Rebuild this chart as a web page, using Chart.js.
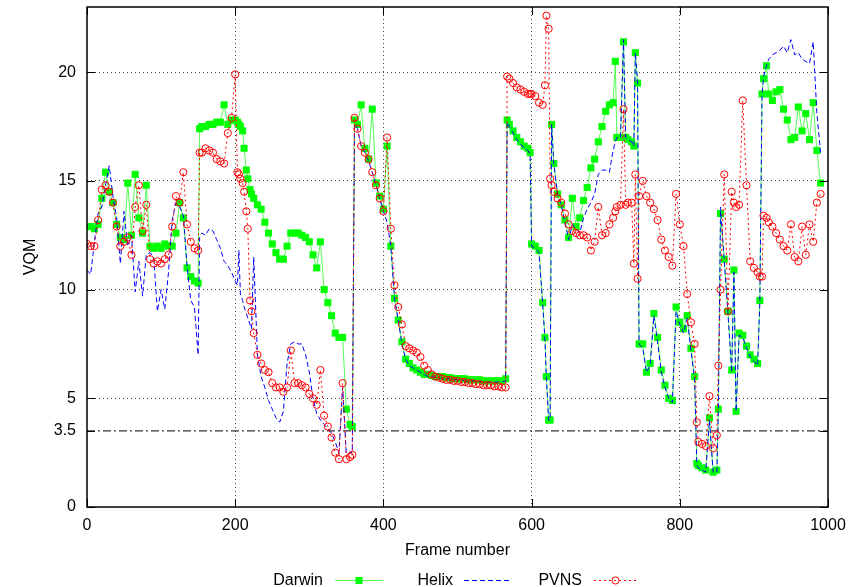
<!DOCTYPE html>
<html>
<head>
<meta charset="utf-8">
<script src="https://cdn.jsdelivr.net/npm/chart.js@4.4.1/dist/chart.umd.min.js"></script>
<style>
  html, body { margin: 0; padding: 0; background: #fff; }
  #wrap { width: 850px; height: 587px; }
</style>
</head>
<body>
<div id="wrap"><canvas id="c" width="850" height="587"></canvas></div>
<script>
// ---- data ----
const frames = [
  0,5,10,15,20,25,30,35,40,45,
  50,55,60,65,70,75,80,85,90,95,
  100,105,110,115,120,125,130,135,140,145,
  150,152,155,160,165,170,175,180,185,190,
  195,200,203,205,207,210,212,215,217,220,222,225,230,235,
  240,245,250,255,260,265,270,275,280,285,
  290,295,300,305,310,315,320,325,330,335,
  340,345,350,355,358,361,365,370,375,380,
  385,390,395,400,405,410,415,420,425,430,
  435,440,445,450,455,460,465,470,475,480,
  485,490,495,500,505,510,515,520,525,530,
  535,540,545,550,555,560,565,567,570,575,
  580,585,590,595,598,600,605,610,615,618,
  620,623,625,627,630,635,640,645,650,655,
  660,665,670,675,680,685,690,695,700,705,
  710,713,715,720,724,727,730,735,738,740,
  743,745,750,755,760,765,770,775,780,785,
  790,795,800,805,810,815,820,823,825,830,
  835,840,845,850,852,855,860,865,870,873,
  876,880,885,890,895,900,905,908,911,913,
  917,920,925,930,935,940,945,950,955,960,
  965,970,975,980,985,990
];
const darwin = [
  12.9,12.9,12.8,13.0,14.2,15.4,14.5,14.0,13.0,12.4,
  12.3,14.9,12.5,15.3,13.3,12.6,14.8,12.0,11.9,12.0,
  11.9,12.1,12.0,12.0,12.6,14.0,13.3,11.0,10.6,10.4,
  10.3,17.4,17.5,17.5,17.6,17.6,17.7,17.7,18.5,17.6,
  17.8,17.8,17.7,17.6,17.5,17.3,16.5,15.5,15.1,14.6,14.4,14.2,13.9,13.7,
  13.1,12.6,12.1,11.7,11.4,11.4,12.0,12.6,12.6,12.6,
  12.5,12.4,12.2,11.6,11.0,12.2,10.0,9.4,8.8,8.0,
  7.8,7.8,4.5,3.8,3.7,17.8,17.6,18.5,16.5,16.0,
  18.3,14.9,14.3,13.7,16.6,12.0,9.6,8.6,7.6,6.8,
  6.6,6.4,6.3,6.2,6.1,6.1,6.05,6.0,6.0,6.0,
  5.95,5.95,5.9,5.9,5.9,5.9,5.85,5.85,5.85,5.85,
  5.8,5.8,5.8,5.8,5.8,5.8,5.9,17.8,17.6,17.3,
  17.0,16.8,16.6,16.5,16.3,12.1,12.0,11.8,9.4,7.8,
  6.0,4.0,4.0,17.6,15.8,14.4,13.9,13.2,12.4,14.2,
  12.9,13.3,14.1,14.7,15.6,16.0,16.8,17.5,18.2,18.5,
  18.6,20.5,17.0,17.0,21.4,17.0,16.9,16.8,16.6,20.9,
  19.5,7.5,7.5,6.2,6.6,8.9,7.8,6.3,5.6,5.0,
  4.9,9.2,8.5,8.2,8.8,7.3,6.0,2.0,1.9,1.8,
  1.7,4.1,1.6,1.7,4.5,13.5,11.4,9.0,6.3,10.9,
  4.4,8.0,7.9,7.4,7.0,6.8,6.6,9.5,19.0,19.7,
  20.3,19.0,18.7,19.1,19.2,18.3,17.8,16.9,17.0,18.4,
  17.3,18.1,16.9,18.6,16.4,14.9
];
const helix = [
  10.9,10.7,12.2,13.5,13.8,14.8,15.7,14.3,13.3,11.2,
  13.6,12.0,12.5,9.9,11.3,9.7,11.6,11.7,11.5,9.0,
  10.0,9.1,10.8,13.2,14.0,13.8,13.4,11.1,9.5,9.2,
  7.0,12.4,12.6,12.5,12.8,12.7,12.3,11.9,11.3,11.1,
  10.8,10.4,10.2,11.8,9.8,9.5,9.2,8.9,8.7,8.4,8.2,11.5,7.0,6.0,
  5.5,4.9,4.5,4.1,3.9,4.4,6.6,7.5,7.6,7.5,
  7.5,7.0,6.2,5.0,4.3,4.0,3.8,3.6,3.4,3.0,
  2.5,5.5,2.4,2.5,2.5,17.6,17.4,16.6,16.3,15.9,
  15.4,14.8,14.2,13.6,13.1,12.0,9.6,8.6,7.5,6.8,
  6.5,6.4,6.3,6.2,6.1,6.0,6.0,5.95,5.95,5.9,
  5.9,5.9,5.85,5.85,5.85,5.8,5.8,5.8,5.8,5.8,
  5.75,5.75,5.75,5.75,5.75,5.75,5.8,17.7,17.5,17.2,
  16.9,16.7,16.5,16.4,16.2,12.0,11.9,11.7,9.3,7.7,
  5.9,4.0,4.0,17.6,15.8,14.4,13.9,13.1,12.3,13.0,
  12.8,12.6,13.3,13.7,14.0,14.4,15.3,15.5,15.5,15.4,
  16.4,16.8,17.0,17.0,21.5,17.0,16.9,16.8,16.6,20.9,
  19.5,7.5,7.3,6.2,6.5,8.8,7.6,6.2,5.5,5.0,
  4.8,9.0,8.4,8.0,8.7,7.2,5.9,1.9,1.8,1.7,
  1.6,4.0,1.6,1.6,4.5,13.8,11.3,8.9,6.2,10.8,
  4.4,7.9,7.8,7.3,6.9,6.7,6.5,9.4,19.0,19.8,
  20.3,20.6,20.8,20.9,21.0,21.2,20.9,21.5,20.8,20.9,
  20.6,20.5,20.4,21.4,18.1,16.3
];
const pvns = [
  12.1,12.0,12.0,13.2,14.6,14.8,14.5,14.0,12.9,12.0,
  12.2,12.4,11.6,13.8,14.8,12.7,13.9,11.4,11.2,11.3,
  11.2,11.4,11.6,12.9,14.3,14.0,15.4,13.0,12.2,11.9,
  11.8,16.3,16.3,16.5,16.4,16.3,16.0,15.9,15.8,17.2,
  17.9,19.9,15.4,15.3,15.1,14.9,14.5,13.6,12.8,9.5,9.0,8.0,7.0,6.6,
  6.3,6.2,5.7,5.5,5.5,5.3,5.5,7.2,5.7,5.7,
  5.6,5.5,5.2,5.0,4.7,6.3,4.2,3.7,3.2,2.5,
  2.2,5.7,2.2,2.3,2.4,17.9,17.4,16.6,16.3,16.0,
  15.4,14.8,14.2,13.6,17.0,12.8,10.2,9.2,8.4,7.4,
  7.3,7.2,7.1,6.9,6.5,6.3,6.1,6.0,5.95,5.9,
  5.85,5.85,5.8,5.8,5.75,5.75,5.7,5.7,5.65,5.65,
  5.6,5.6,5.6,5.55,5.55,5.5,5.5,19.8,19.7,19.5,
  19.3,19.2,19.1,19.0,19.0,19.0,18.9,18.6,18.5,19.4,
  22.6,22.0,15.1,14.8,14.5,14.2,14.0,13.5,13.0,12.7,
  12.6,12.5,12.5,12.4,11.8,12.2,13.8,12.5,12.6,13.0,
  13.3,13.6,13.8,13.9,18.3,13.9,14.0,14.0,11.2,15.3,
  10.5,14.3,15.0,14.3,14.0,13.7,13.2,12.3,11.8,11.5,
  11.1,14.4,13.0,12.0,9.8,8.5,7.5,3.9,3.0,2.9,
  2.8,5.1,2.7,3.3,6.5,10.0,15.3,9.0,14.5,14.0,
  13.8,13.9,18.7,14.8,11.3,11.0,10.8,10.6,10.6,13.4,
  13.3,13.1,12.9,12.6,12.3,12.0,11.8,13.0,11.5,11.3,
  12.9,11.6,13.0,12.2,14.0,14.4
];
const seriesNames = ['Darwin', 'Helix', 'PVNS'];
const yTickValues = [0, 3.5, 5, 10, 15, 20];
const xTickValues = [0, 200, 400, 600, 800, 1000];
const thresholdValue = 3.5;
const xRange = [0, 1000];
const yRange = [0, 23];

// ---- chart ----
const FONT = "'Liberation Sans', Arial, Helvetica, sans-serif";
const toXY = (vals) => frames.map((f, i) => ({ x: f, y: vals[i] }));

const frameBox = {
  id: 'frameBox',
  afterDraw(chart) {
    const { ctx, chartArea: a, scales } = chart;
    ctx.save();
    ctx.strokeStyle = '#000';
    ctx.lineWidth = 1;
    const tl = 8;
    xTickValues.forEach(v => {
      const px = Math.round(scales.x.getPixelForValue(v)) + 0.5;
      ctx.beginPath();
      ctx.moveTo(px, a.bottom); ctx.lineTo(px, a.bottom - tl);
      ctx.moveTo(px, a.top); ctx.lineTo(px, a.top + tl);
      ctx.stroke();
    });
    yTickValues.forEach(v => {
      const py = Math.round(scales.y.getPixelForValue(v)) + 0.5;
      ctx.beginPath();
      ctx.moveTo(a.left, py); ctx.lineTo(a.left + tl, py);
      ctx.moveTo(a.right, py); ctx.lineTo(a.right - tl, py);
      ctx.stroke();
    });
    ctx.lineWidth = 1.5;
    ctx.strokeRect(a.left, a.top, a.right - a.left, a.bottom - a.top);
    ctx.restore();
  }
};

const gpLegend = {
  id: 'gpLegend',
  afterDraw(chart) {
    const ctx = chart.ctx;
    const y = 580.5;
    const slots = [
      { ds: 0, textRight: 323, x0: 335, x1: 383 },
      { ds: 1, textRight: 453, x0: 464, x1: 512 },
      { ds: 2, textRight: 582, x0: 594, x1: 637 }
    ];
    ctx.save();
    slots.forEach(s => {
      const d = chart.data.datasets[s.ds];
      ctx.font = '16px ' + FONT;
      ctx.fillStyle = '#000';
      ctx.textAlign = 'right';
      ctx.textBaseline = 'middle';
      ctx.fillText(d.label, s.textRight, y);
      ctx.beginPath();
      ctx.setLineDash(d.borderDash || []);
      ctx.strokeStyle = d.borderColor;
      ctx.lineWidth = d.borderWidth;
      ctx.moveTo(s.x0, y); ctx.lineTo(s.x1, y);
      ctx.stroke();
      ctx.setLineDash([]);
      if (d.pointRadius > 0) {
        ctx.fillStyle = d.pointBackgroundColor;
        ctx.strokeStyle = d.pointBorderColor;
        ctx.lineWidth = d.pointBorderWidth;
        Chart.helpers.drawPoint(ctx, {
          pointStyle: d.pointStyle, radius: d.pointRadius, rotation: 0,
          borderWidth: d.pointBorderWidth
        }, (s.x0 + s.x1) / 2, y);
      }
    });
    ctx.restore();
  }
};

new Chart(document.getElementById('c'), {
  type: 'line',
  data: {
    datasets: [
      {
        label: seriesNames[0],
        data: toXY(darwin),
        borderColor: '#55ff55',
        borderWidth: 1,
        pointStyle: 'rect',
        pointRadius: 5,
        pointBackgroundColor: '#00ff00',
        pointBorderColor: '#00ff00',
        pointBorderWidth: 0,
        order: 3
      },
      {
        label: seriesNames[1],
        data: toXY(helix),
        borderColor: '#0000ff',
        borderWidth: 1,
        borderDash: [5, 3],
        pointRadius: 0,
        order: 2
      },
      {
        label: seriesNames[2],
        data: toXY(pvns),
        borderColor: '#ff0000',
        borderWidth: 1,
        borderDash: [2, 3],
        pointStyle: 'circle',
        pointRadius: 3.6,
        pointBackgroundColor: 'rgba(0,0,0,0)',
        pointBorderColor: '#ff0000',
        pointBorderWidth: 1,
        order: 1
      },
      {
        label: 'threshold',
        data: [{ x: xRange[0], y: thresholdValue }, { x: xRange[1], y: thresholdValue }],
        borderColor: '#000',
        borderWidth: 1,
        borderDash: [8, 3, 2, 3],
        pointRadius: 0,
        order: 4
      }
    ]
  },
  options: {
    responsive: false,
    animation: false,
    devicePixelRatio: 1,
    layout: { autoPadding: false, padding: { left: 0, right: 22, top: 7, bottom: 27 } },
    plugins: {
      legend: { display: false },
      tooltip: { enabled: false }
    },
    elements: { line: { tension: 0 } },
    scales: {
      x: {
        type: 'linear',
        min: xRange[0], max: xRange[1],
        afterBuildTicks: (s) => { s.ticks = xTickValues.map(v => ({ value: v })); },
        afterFit: (s) => { s.height = 53; s.paddingLeft = 0; s.paddingRight = 0; s.paddingTop = 0; s.paddingBottom = 0; },
        ticks: { font: { family: FONT, size: 16 }, color: '#000', padding: 9, maxRotation: 0,
                 callback: (v) => String(v) },
        grid: {
          drawTicks: false,
          color: (c) => (c.tick && (c.tick.value === 0 || c.tick.value === 1000)) ? 'rgba(0,0,0,0)' : '#444',
          lineWidth: 1
        },
        border: { display: false, dash: [1, 3] },
        title: {
          display: true, text: 'Frame number', color: '#000',
          font: { family: FONT, size: 16, lineHeight: 1.2 },
          padding: { top: 0, bottom: 0 }
        }
      },
      y: {
        type: 'linear',
        min: yRange[0], max: yRange[1],
        afterBuildTicks: (s) => { s.ticks = yTickValues.map(v => ({ value: v })); },
        afterFit: (s) => { s.width = 87; s.paddingTop = 0; s.paddingBottom = 0; s.paddingLeft = 0; s.paddingRight = 0; },
        ticks: { font: { family: FONT, size: 16 }, color: '#000', padding: 11,
                 callback: (v) => String(v) },
        grid: {
          drawTicks: false,
          color: (c) => (c.tick && (c.tick.value === 0 || c.tick.value === 3.5)) ? 'rgba(0,0,0,0)' : '#444',
          lineWidth: 1
        },
        border: { display: false, dash: [1, 3] },
        title: {
          display: true, text: 'VQM', color: '#000',
          font: { family: FONT, size: 16, lineHeight: 1.2 },
          padding: { top: 21, bottom: 0 }
        }
      }
    }
  },
  plugins: [frameBox, gpLegend]
});
</script>
</body>
</html>
